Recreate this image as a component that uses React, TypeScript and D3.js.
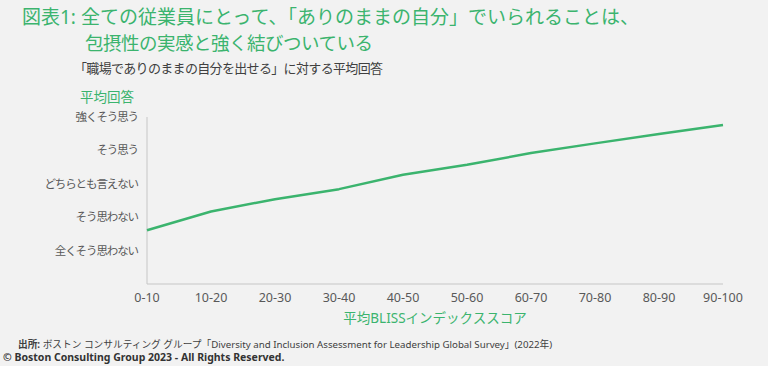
import React from 'react'
import * as d3 from 'd3'

const WIDTH = 768
const HEIGHT = 366
const GREEN = '#3bb46e'
const TEXT_GREY = '#595959'
const FONT = '"Noto Sans", "Noto Sans CJK JP", sans-serif'

const categories = ['0-10', '10-20', '20-30', '30-40', '40-50', '50-60', '60-70', '70-80', '80-90', '90-100']
const averageAnswer = [1.61, 2.17, 2.54, 2.84, 3.27, 3.57, 3.92, 4.21, 4.49, 4.76]
const answerLabels = ['全くそう思わない', 'そう思わない', 'どちらとも言えない', 'そう思う', '強くそう思う']
const answerTicks = [1, 2, 3, 4, 5]

const margin = { left: 147, right: 45, top: 117, bottom: 82 }

export default function App() {
  const x = d3.scalePoint<string>()
    .domain(categories)
    .range([margin.left, WIDTH - margin.right])

  const y = d3.scaleLinear()
    .domain([0, 5])
    .range([HEIGHT - margin.bottom, margin.top])

  const line = d3.line<number>()
    .x((d, i) => x(categories[i]) as number)
    .y(d => y(d))

  const axisY = y(0)

  return (
    <svg
      width={WIDTH}
      height={HEIGHT}
      style={{ position: 'absolute', left: 0, top: 0, background: '#f2f2f2', fontFamily: FONT }}
    >
      <rect width={WIDTH} height={HEIGHT} fill="#f2f2f2" />

      {/* title */}
      <text x={22} y={24} fill={GREEN} fontSize={19}>
        図表1: 全ての従業員にとって、「ありのままの自分」でいられることは、
      </text>
      <text x={85} y={50} fill={GREEN} fontSize={18.5} letterSpacing={-0.5}>
        包摂性の実感と強く結びついている
      </text>
      <text x={74} y={73} fill="#404040" fontSize={13} textLength={309} lengthAdjust="spacing">
        「職場でありのままの自分を出せる」に対する平均回答
      </text>

      {/* axis titles */}
      <text x={107} y={102} fill={GREEN} fontSize={13.5} textAnchor="middle">平均回答</text>
      <text x={435} y={323} fill={GREEN} fontSize={13.5} textAnchor="middle">平均BLISSインデックススコア</text>

      {/* axes */}
      <line x1={margin.left} x2={margin.left} y1={margin.top} y2={axisY} stroke="#c6c6c6" strokeWidth={1} />
      <line x1={margin.left} x2={x(categories[categories.length - 1]) as number} y1={axisY} y2={axisY} stroke="#c6c6c6" strokeWidth={1} />

      {answerTicks.map((t, i) => (
        <text key={t} x={138} y={y(t)} dy="0.35em" textAnchor="end" fill={TEXT_GREY} fontSize={11.5} letterSpacing={-1.1}>
          {answerLabels[i]}
        </text>
      ))}

      {categories.map(c => (
        <text key={c} x={x(c) as number} y={298} dy="0.35em" textAnchor="middle" fill={TEXT_GREY} fontSize={12.5}>
          {c}
        </text>
      ))}

      <path d={line(averageAnswer) || ''} fill="none" stroke={GREEN} strokeWidth={2.5} strokeLinejoin="round" />

      {/* footer */}
      <text x={18} y={348} fill="#404040" fontSize={9.7}>
        <tspan fontWeight="bold">出所: </tspan>
        ボストン コンサルティング グループ「Diversity and Inclusion Assessment for Leadership Global Survey」(2022年)
      </text>
      <text x={3} y={361} fill="#333" fontSize={10.5} fontWeight="bold">
        © Boston Consulting Group 2023 - All Rights Reserved.
      </text>
    </svg>
  )
}
